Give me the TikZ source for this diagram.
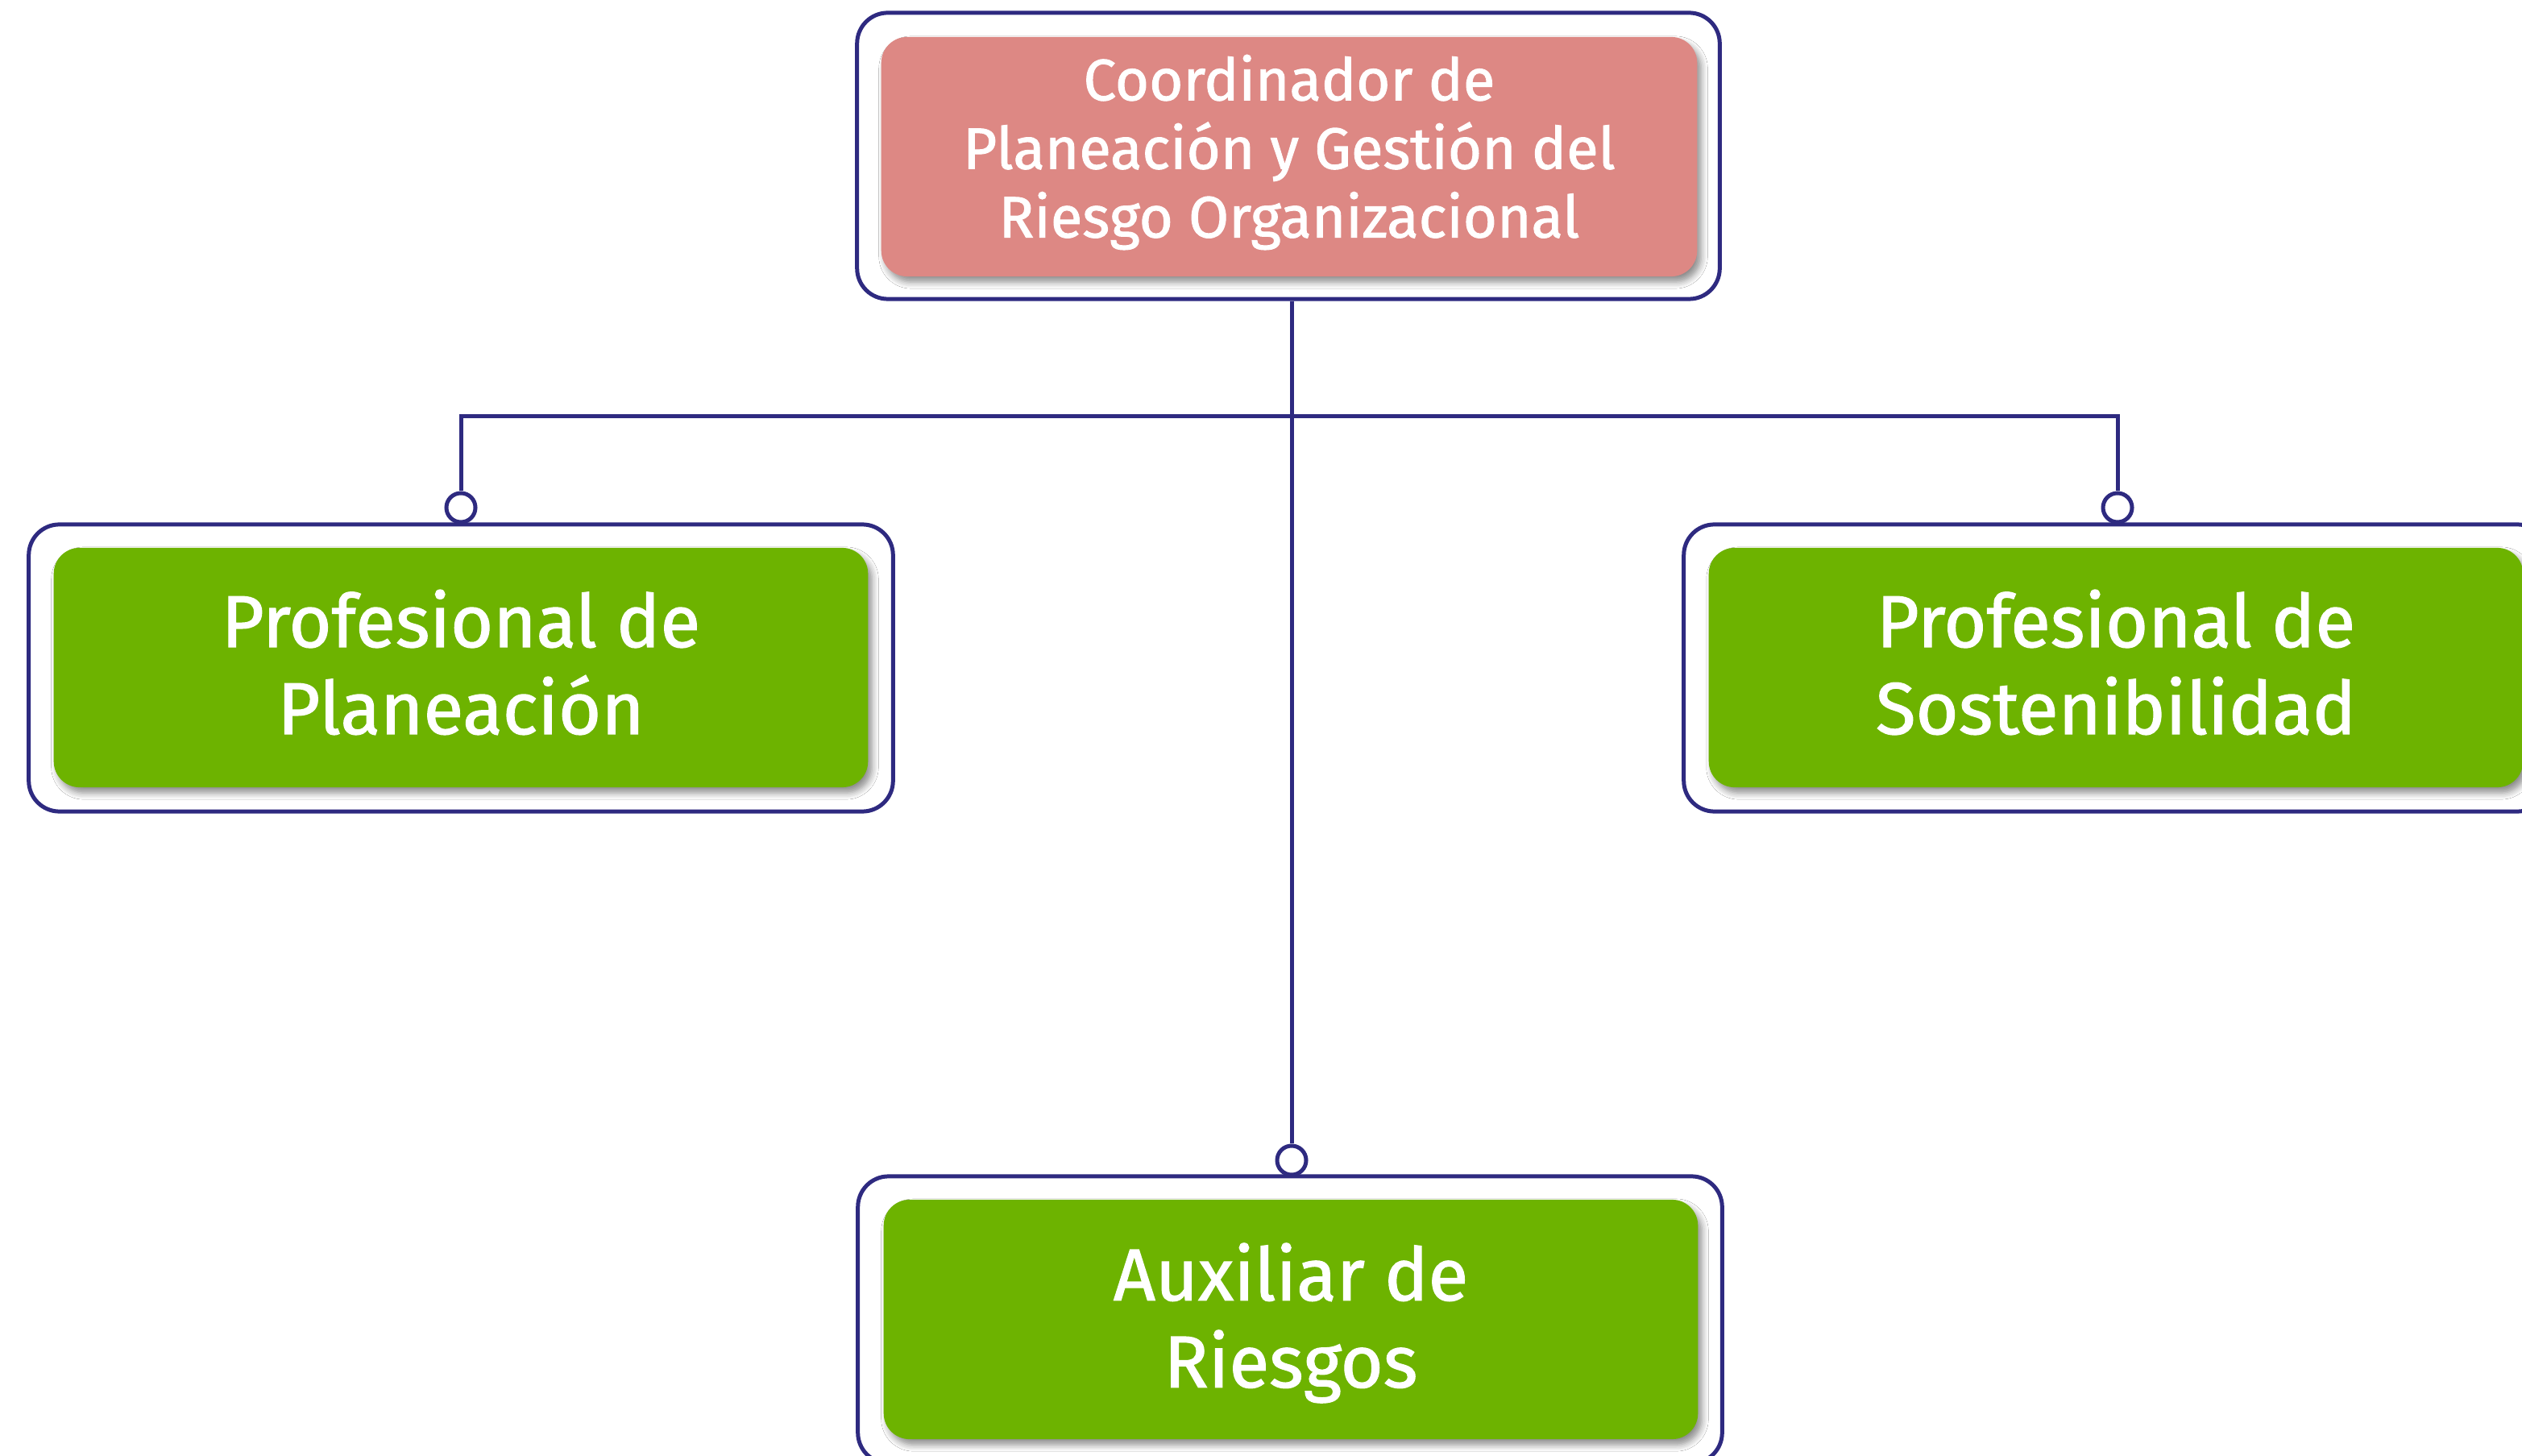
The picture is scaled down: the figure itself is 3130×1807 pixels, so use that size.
\documentclass[tikz,border=0pt]{standalone}
\usepackage{fontspec}
\setmainfont{Fira Sans}
\newfontfamily\medfont[FakeBold=1.3]{Fira Sans}
\usetikzlibrary{shadows.blur}
\definecolor{frame}{HTML}{2E2A80}
\definecolor{pinkbox}{HTML}{DD8884}
\definecolor{greenbox}{HTML}{6DB300}
\tikzset{
  outerbox/.style={draw=frame, line width=1.42pt, fill=white, rounded corners=0.38cm, inner sep=0pt},
  innerbox/.style={rounded corners=0.32cm, inner sep=0pt,
    blur shadow={shadow xshift=0.05cm, shadow yshift=-0.07cm, shadow blur steps=6, shadow blur radius=0.08cm, shadow opacity=45}},
  topbox/.style={innerbox, fill=pinkbox, minimum width=10.12cm, minimum height=2.97cm},
  rolebox/.style={innerbox, fill=greenbox, minimum width=10.10cm, minimum height=2.97cm},
  toptext/.style={text=white, align=center, inner sep=0pt, font=\medfont\fontsize{20.6pt}{24.2pt}\selectfont},
  roletext/.style={text=white, align=center, inner sep=0pt, font=\medfont\fontsize{25.9pt}{30.7pt}\selectfont},
  hook/.style={circle, draw=frame, line width=1.42pt, fill=white, minimum size=0.36cm, inner sep=0pt},
  link/.style={draw=frame, line width=1.42pt}
}
\begin{document}
\begin{tikzpicture}[x=0.01cm, y=-0.01cm]
\useasboundingbox (0,0) rectangle (3130,1807);
\fill[white] (0,0) rectangle (3130,1807);
\clip (0,0) rectangle (3130,1807);
% outer frames
\node[outerbox, minimum width=10.70cm, minimum height=3.55cm] (topO) at (1599,193.5) {};
\node[outerbox, minimum width=10.72cm, minimum height=3.56cm] (leftO) at (572,829) {};
\node[outerbox, minimum width=10.72cm, minimum height=3.56cm] (rightO) at (2626,829) {};
\node[outerbox, minimum width=10.72cm, minimum height=3.56cm] (botO) at (1601,1638) {};
% inner boxes
\node[topbox] (top) at (1600,194.5) {};
\node[rolebox] (left) at (572,828.5) {};
\node[rolebox] (right) at (2626,828.5) {};
\node[rolebox] (bot) at (1602,1637.5) {};
% texts
\node[toptext] (topT) at (1600,189) {Coordinador de\\Planeación y Gestión del\\Riesgo Organizacional};
\node[roletext] (leftT) at (572,822) {Profesional de\\Planeación};
\node[roletext] (rightT) at (2626,822) {Profesional de\\Sostenibilidad};
\node[roletext] (botT) at (1602,1642) {Auxiliar de\\Riesgos};
% hooks
\node[hook] (cL) at (572,630) {};
\node[hook] (cR) at (2628,630) {};
\node[hook] (cB) at (1603,1440) {};
\coordinate (bus) at (1603,517);
% connectors
\draw[link] (cB.north |- topO.south) -- (cB.north);
\draw[link] (cL.north) |- (bus) -| (cR.north);
\end{tikzpicture}
\end{document}
